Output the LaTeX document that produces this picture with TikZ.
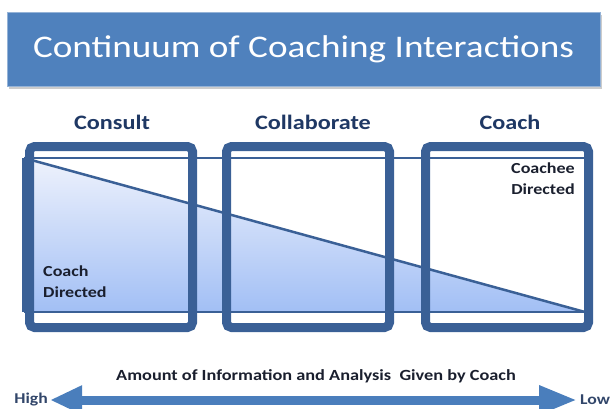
\documentclass[tikz,border=0pt]{standalone}
\usepackage{fontspec}
\setmainfont{Carlito}[FakeStretch=1.18]
\usetikzlibrary{arrows.meta}
\definecolor{titleblue}{HTML}{4F81BD}
\definecolor{boxblue}{HTML}{3A6096}
\definecolor{headblue}{HTML}{1F3864}
\definecolor{arrowblue}{HTML}{4A7EBC}
\definecolor{fillbot}{HTML}{A2BFF5}
\definecolor{filltop}{HTML}{EEF2FC}
\definecolor{textdark}{HTML}{1A1F2E}
\tikzset{
  colbox/.style={draw=boxblue, line width=9pt, rounded corners=5pt, minimum width=163pt, minimum height=181pt, inner sep=0pt},
  heading/.style={text=headblue, font=\fontsize{20.5}{24}\selectfont\bfseries, inner sep=0pt},
  lbl/.style={text=textdark, font=\fontsize{15.3}{20.5}\selectfont\bfseries, inner sep=0pt, align=left},
  endlbl/.style={text=headblue!80!gray, font=\fontsize{15}{17}\selectfont\bfseries, inner sep=0pt},
  thinline/.style={draw=boxblue, line width=1.8pt}
}
\begin{document}
\begin{tikzpicture}[x=1pt,y=-1pt]
\useasboundingbox (0,0) rectangle (615,409);
% title
\fill[black!20] (9,15) rectangle (602,89);
\node[fill=titleblue, draw=titleblue!60!white, line width=0.8pt, minimum width=593pt, minimum height=74pt, inner sep=0pt, text=white, font=\fontsize{31.5}{36}\selectfont] (title) at (303.5,49) {Continuum of Coaching Interactions};
% headings
\node[heading] (h1) at (112,122) {Consult};
\node[heading] (h2) at (313,122) {Collaborate};
\node[heading] (h3) at (510,122) {Coach};
% triangle
\shade[top color=filltop, bottom color=fillbot] (24,158) -- (585,312) -- (24,312) -- cycle;
\coordinate (tl) at (24,158);
\coordinate (tr) at (585,158);
\coordinate (br) at (585,312);
\coordinate (bl) at (24,312);
\draw[thinline] (tl) -- (tr);
\draw[thinline] (bl) -- (br);
\draw[draw=boxblue, line width=4pt] (tl) -- (bl);
\draw[draw=boxblue, line width=2.5pt] (tl) -- (br);
% boxes
\node[colbox] (b1) at (111,237) {};
\node[colbox] (b2) at (308,237) {};
\node[colbox] (b3) at (507,237) {};
% labels
\node[lbl, anchor=north west] (cd) at (43,266) {Coach\\Directed};
\node[lbl, anchor=north east, align=right] (ced) at (575,163) {Coachee\\Directed};
% bottom
\node[text=textdark, font=\fontsize{15.5}{18}\selectfont\bfseries, inner sep=0pt] (amt) at (316,376) {Amount of Information and Analysis~ Given by Coach};
\node[endlbl, anchor=east] (high) at (48,400) {High};
\node[endlbl, anchor=west] (low) at (580,400) {Low};
\draw[arrowblue, line width=9pt, {Triangle[length=32pt,width=27pt]}-{Triangle[length=38pt,width=27pt]}, shorten <=2pt, shorten >=3pt] (high.east) -- (low.west);
\end{tikzpicture}
\end{document}
